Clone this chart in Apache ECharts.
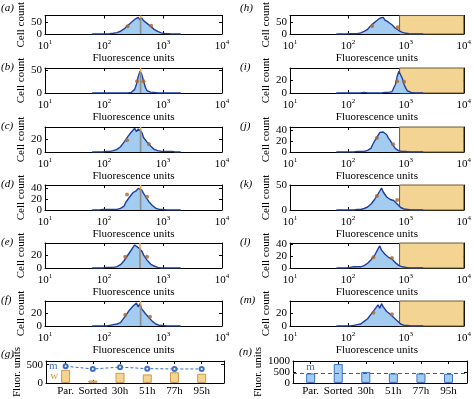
<!DOCTYPE html>
<html>
<head>
<meta charset="utf-8">
<script src="https://cdn.jsdelivr.net/npm/echarts@6/dist/echarts.min.js"></script>
<style>
  html, body { margin: 0; padding: 0; background: #fff; }
  #chart { width: 474px; height: 399px; }
</style>
</head>
<body>
<div id="chart"></div>
<script>
// histogram bins, log10 of fluorescence
const binExp = [1.80,1.83,1.86,1.89,1.92,1.95,1.98,2.01,2.04,2.07,
                2.10,2.13,2.16,2.19,2.22,2.25,2.28,2.31,2.34,2.37,
                2.40,2.43,2.46,2.49,2.52,2.55,2.58,2.61,2.64,2.67,
                2.70,2.73,2.76,2.79,2.82,2.85,2.88,2.91,2.94,2.97,
                3.00,3.03,3.06,3.09,3.12,3.15,3.18,3.21,3.24,3.27,3.30];

const countA = [0,0,0,0,0,0,0,1,0,1, 1,2,3,4,6,8,12,16,22,25, 36,39,50,53,63,62,72,61,70,58, 60,46,48,33,32,20,21,11,10,5, 5,2,3,1,1,0,1,0,0,0, 0];
const countB = [0,0,0,0,0,0,0,0,0,0, 0,0,0,0,0,0,0,0,0,1, 0,1,1,3,8,19,36,48,41,27, 13,5,3,2,1,1,0,0,0,0, 0,0,0,0,0,0,0,0,0,0, 0];
const countC = [0,0,0,0,0,1,0,1,1,0, 1,1,2,2,4,4,8,8,15,15, 23,21,30,28,36,31,35,33,30,22, 21,15,13,9,8,4,4,2,2,1, 1,1,0,1,0,1,0,0,0,0, 0];
const countD = [0,0,0,0,0,0,1,0,1,1, 1,1,1,2,1,4,3,6,7,14, 13,23,25,31,33,35,39,37,36,30, 25,22,15,13,8,7,3,3,1,1, 1,0,0,1,0,0,0,0,0,0, 0];
const countE = [0,0,0,0,0,0,0,0,1,0, 1,1,1,1,2,3,5,7,11,13, 19,21,27,28,35,33,31,29,26,20, 21,12,12,6,6,3,3,1,1,0, 1,0,0,0,0,0,0,0,0,0, 0];
const countF = [0,0,0,0,0,0,0,1,0,1, 1,1,2,2,3,5,5,9,10,16, 16,24,24,30,29,35,29,34,26,27, 19,19,13,12,7,7,3,4,1,2, 1,1,0,1,0,0,0,0,0,0, 0];
const countH = [0,0,0,0,0,0,0,0,1,0, 1,2,1,4,5,9,11,17,20,29, 32,44,46,56,59,68,64,72,60,65, 51,54,40,40,25,26,15,14,7,8, 3,3,1,2,0,1,0,0,0,0, 0];
const countI = [0,0,0,0,0,0,0,0,0,0, 0,0,0,0,0,0,1,0,0,1, 0,1,0,1,0,1,0,1,1,1, 1,1,2,5,13,25,33,30,22,13, 7,3,2,1,1,0,0,0,0,0, 0];
const countJ = [0,0,0,0,0,0,0,0,0,0, 0,0,1,0,1,1,1,2,3,6, 7,14,17,25,28,35,37,36,34,31, 25,21,15,12,6,5,2,2,1,0, 1,0,0,0,0,0,0,0,0,0, 0];
const countK = [0,0,0,0,0,0,0,0,0,0, 0,0,1,1,1,2,3,2,6,6, 12,13,21,23,32,34,44,36,35,26, 25,21,24,19,18,12,10,5,4,2, 1,1,0,0,0,0,0,0,0,0, 0];
const countL = [0,0,0,0,0,0,0,0,1,1, 2,3,2,1,2,2,4,5,8,8, 14,15,21,22,32,37,30,29,23,22, 18,18,15,14,9,9,4,4,2,1, 1,1,0,0,0,0,0,0,0,0, 0];
const countM = [0,0,0,0,0,0,0,1,0,1, 1,1,2,3,3,5,7,7,11,12, 18,19,25,25,32,27,34,29,28,22, 23,18,18,13,13,8,7,3,4,1, 2,1,1,0,0,0,0,0,0,0, 0];

const histLabels = ['(a)','(b)','(c)','(d)','(e)','(f)','(h)','(i)','(j)','(k)','(l)','(m)'];
const histCounts = [countA, countB, countC, countD, countE, countF, countH, countI, countJ, countK, countL, countM];
const histYMax = [80, 55, 38, 45, 38, 38, 80, 38, 45, 50, 42, 38];
const histYTicks = [[0,50],[0,50],[0,20],[0,20,40],[0,20],[0,20],[0,50],[0,20],[0,20,40],[0,50],[0,20,40],[0,20]];
const dotExp = [[2.40,2.80],[2.56,2.67],[2.39,2.76],[2.39,2.73],[2.36,2.73],[2.36,2.78],
                [2.42,2.86],[2.85,2.97],[2.50,2.78],[2.50,2.85],[2.44,2.76],[2.44,2.76]];
const dotCount = [[34,36],[26,26],[18,12],[28,24],[17,17],[17,14],
                  [35,29],[18,17],[25,14],[28,20],[18,17],[20,18]];
const medianExp = [2.62, 2.62, 2.62, 2.62, 2.61, 2.62];
const medianCount = [68, 46, 34, 38, 30, 31];
const gateFrom = 780, gateTo = 10000;
const xTicks = [10, 100, 1000, 10000];

const barCats = ['Par.', 'Sorted', '30h', '51h', '77h', '95h'];
const barPos = [1, 2, 3, 4, 5, 6];
const wBarsG = [357, 65, 275, 232, 290, 250];
const mLineG = [457, 382, 432, 390, 382, 382];
const mBarsN = [430, 860, 500, 430, 430, 415];
const mRefN = 430;

const FONT = '"Liberation Serif", "Times New Roman", "DejaVu Serif", serif';
const BLUE = '#223f9c', FILL = '#a3cdf0', TAN = '#f3d493', ORANGE = '#e9a43c', DOT = '#a8692c';

const rowTops = [9, 68, 127, 185, 243, 301];
const grids = [], xAxes = [], yAxes = [], series = [], graphics = [];

function axisBase(extra) {
  return Object.assign({
    axisLine: { show: true, onZero: false, lineStyle: { color: '#000', width: 1 } },
    axisTick: { show: true, inside: true, length: 3, lineStyle: { color: '#000' } },
    splitLine: { show: false },
    axisLabel: { show: false }
  }, extra);
}

// one boxed panel: grid + bottom/top x + left/right y
function addPanel(left, top, width, height, xCfg, yCfg) {
  const g = grids.length;
  grids.push({ left: left, top: top, width: width, height: height, containLabel: false });
  const xb = xAxes.length;
  xAxes.push(axisBase(Object.assign({ gridIndex: g, position: 'bottom' }, xCfg.main)));
  xAxes.push(axisBase(Object.assign({ gridIndex: g, position: 'top' }, xCfg.mirror)));
  const yl = yAxes.length;
  yAxes.push(axisBase(Object.assign({ gridIndex: g, position: 'left' }, yCfg.main)));
  yAxes.push(axisBase(Object.assign({ gridIndex: g, position: 'right' }, yCfg.mirror)));
  return { x: xb, y: yl };
}

function logX() {
  const common = { type: 'log', logBase: 10, min: 10, max: 10000 };
  return {
    main: Object.assign({}, common, {
      axisTick: { show: true, inside: true, length: 3, customValues: xTicks, lineStyle: { color: '#000' } },
      axisLabel: {
        show: true, customValues: xTicks, margin: 5, color: '#000', fontFamily: FONT, fontSize: 11,
        formatter: v => '10{e|' + Math.round(Math.log10(v)) + '}',
        rich: { e: { fontSize: 7, fontFamily: FONT, color: '#000', padding: [0, 0, 7, 0] } }
      },
      name: 'Fluorescence units', nameLocation: 'middle', nameGap: 18,
      nameTextStyle: { fontFamily: FONT, fontSize: 11, color: '#000' }
    }),
    mirror: Object.assign({}, common, {
      axisTick: { show: true, inside: true, length: 3, customValues: xTicks, lineStyle: { color: '#000' } }
    })
  };
}

function valueY(max, ticks, name, gap) {
  return {
    main: {
      type: 'value', min: 0, max: max,
      axisTick: { show: true, inside: true, length: 3, customValues: ticks, lineStyle: { color: '#000' } },
      axisLabel: { show: true, customValues: ticks, margin: 3, color: '#000', fontFamily: FONT, fontSize: 11,
        formatter: v => String(v) },
      name: name, nameLocation: 'middle', nameGap: gap, nameRotate: 90,
      nameTextStyle: { fontFamily: FONT, fontSize: 11, color: '#000' }
    },
    mirror: {
      type: 'value', min: 0, max: max,
      axisTick: { show: true, inside: true, length: 3, customValues: ticks, lineStyle: { color: '#000' } }
    }
  };
}

function addLabel(text, x, y) {
  graphics.push({ type: 'text', left: x, top: y,
    style: { text: text, fontFamily: FONT, fontStyle: 'italic', fontSize: 11, fill: '#000' } });
}

// histograms
for (let k = 0; k < 12; k++) {
  const right = k >= 6;
  const row = k % 6;
  const left = right ? 290 : 45;
  const top = rowTops[row];
  const ax = addPanel(left, top, 177, 25, logX(), valueY(histYMax[k], histYTicks[k], 'Cell count', 13));
  addLabel(histLabels[k], right ? 240 : 1, top - 6);

  const pts = binExp.map((e, i) => [Math.pow(10, e), histCounts[k][i]]);
  const s = {
    type: 'line', xAxisIndex: ax.x, yAxisIndex: ax.y, data: pts, symbol: 'none', z: 3,
    lineStyle: { color: BLUE, width: 1.4 }, areaStyle: { color: FILL, opacity: 1 },
    silent: true, animation: false
  };
  if (right) {
    s.markArea = {
      silent: true,
      itemStyle: { color: TAN, borderColor: '#6d5a36', borderWidth: 1 },
      data: [[{ xAxis: gateFrom }, { xAxis: gateTo }]]
    };
  }
  series.push(s);

  if (!right) {
    const mx = Math.pow(10, medianExp[k]);
    series.push({ type: 'line', xAxisIndex: ax.x, yAxisIndex: ax.y, symbol: 'none', z: 4, animation: false,
      data: [[mx, 0], [mx, histYMax[k]]], lineStyle: { color: ORANGE, width: 1.5 } });
    series.push({ type: 'line', xAxisIndex: ax.x, yAxisIndex: ax.y, symbol: 'none', z: 5, animation: false,
      data: [[mx, 0], [mx, medianCount[k]]], lineStyle: { color: '#8d8d8d', width: 1.5 } });
  }
  series.push({ type: 'scatter', xAxisIndex: ax.x, yAxisIndex: ax.y, z: 6, animation: false,
    symbolSize: 4, itemStyle: { color: DOT },
    data: dotExp[k].map((e, i) => [Math.pow(10, e), dotCount[k][i]]) });
}

// bar panels
function catX(min, max) {
  const base = { type: 'value', min: min, max: max };
  return {
    main: Object.assign({}, base, {
      axisTick: { show: true, inside: true, length: 3, customValues: barPos, lineStyle: { color: '#000' } },
      axisLabel: { show: true, customValues: barPos, margin: 3, color: '#000', fontFamily: FONT, fontSize: 11,
        formatter: v => barCats[Math.round(v) - 1] }
    }),
    mirror: Object.assign({}, base, {
      axisTick: { show: true, inside: true, length: 3, customValues: barPos, lineStyle: { color: '#000' } }
    })
  };
}

// (g)
const axG = addPanel(46, 361, 178, 24, catX(0.28, 6.82), valueY(600, [0, 500], 'Fluor. units', 20));
addLabel('(g)', 1, 349);
series.push({
  type: 'bar', xAxisIndex: axG.x, yAxisIndex: axG.y, barWidth: 9, animation: false,
  itemStyle: { color: TAN, borderColor: '#c99a48', borderWidth: 1 },
  label: { show: true, position: 'left', distance: 3, color: '#c99a48', fontFamily: FONT, fontSize: 11,
    formatter: p => p.dataIndex === 0 ? 'w' : '' },
  data: barPos.map((x, i) => [x, wBarsG[i]])
});
series.push({
  type: 'line', xAxisIndex: axG.x, yAxisIndex: axG.y, animation: false, z: 4,
  symbol: 'emptyCircle', symbolSize: 4,
  lineStyle: { color: '#3b6fc6', width: 1, type: [3, 2] },
  itemStyle: { color: '#3b6fc6', borderWidth: 1.2 },
  label: { show: true, position: 'left', distance: 5, color: '#3b6fc6', fontFamily: FONT, fontSize: 11,
    formatter: p => p.dataIndex === 0 ? 'm' : '' },
  data: barPos.map((x, i) => [x, mLineG[i]])
});

// (n)
const axN = addPanel(293, 361, 174, 24, catX(0.36, 6.67), valueY(1000, [0, 500, 1000], 'Fluor. units', 26));
addLabel('(n)', 239, 347);
series.push({
  type: 'bar', xAxisIndex: axN.x, yAxisIndex: axN.y, barWidth: 9, animation: false,
  itemStyle: { color: FILL, borderColor: '#3a72c2', borderWidth: 1 },
  label: { show: true, position: 'top', distance: 1, color: '#3b6fc6', fontFamily: FONT, fontSize: 11,
    formatter: p => p.dataIndex === 0 ? 'm' : '' },
  markLine: {
    silent: true, symbol: 'none', label: { show: false },
    lineStyle: { color: '#2d5fae', type: [4, 3], width: 1 },
    data: [{ yAxis: mRefN }]
  },
  data: barPos.map((x, i) => [x, mBarsN[i]])
});

const chart = echarts.init(document.getElementById('chart'), null, { renderer: 'canvas' });
chart.setOption({
  animation: false,
  textStyle: { fontFamily: FONT },
  grid: grids,
  xAxis: xAxes,
  yAxis: yAxes,
  series: series,
  graphic: graphics
});
</script>
</body>
</html>
